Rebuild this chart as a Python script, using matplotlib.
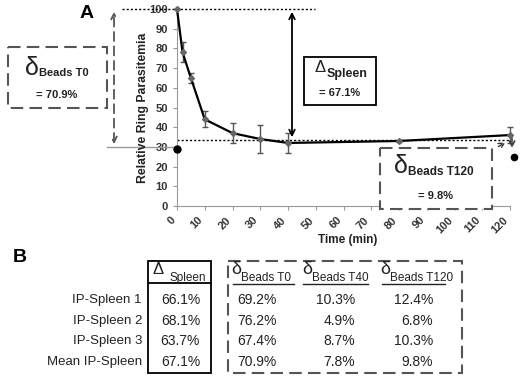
import matplotlib
matplotlib.use("Agg")
import matplotlib.pyplot as plt
from matplotlib.patches import Rectangle

plt.rcParams['font.family'] = ['Liberation Sans', 'DejaVu Sans']

# panel A data
time = [0, 2, 5, 10, 20, 30, 40, 80, 120]
ring = [100, 78, 65, 44, 37, 34, 32, 33, 36]
err = [0, 5, 2.5, 4, 5, 7, 5, 0.5, 4]
spleen_level = 33.5
beads_t0 = 29
beads_t120 = 25

# panel B data
row_names = ['IP-Spleen 1', 'IP-Spleen 2', 'IP-Spleen 3', 'Mean IP-Spleen']
delta_spleen = ['66.1%', '68.1%', '63.7%', '67.1%']
beads_t0_col = ['69.2%', '76.2%', '67.4%', '70.9%']
beads_t40_col = ['10.3%', '4.9%', '8.7%', '7.8%']
beads_t120_col = ['12.4%', '6.8%', '10.3%', '9.8%']

W, H = 520, 376
fig = plt.figure(figsize=(W / 100, H / 100), dpi=100)
txt = '#222222'

# main plot, placed in pixel units
x0, x1, ytop, ybot = 177, 510, 9, 206
ax = fig.add_axes([x0 / W, 1 - ybot / H, (x1 - x0) / W, (ybot - ytop) / H])
ax.set_xlim(0, 120)
ax.set_ylim(0, 100)
ax.errorbar(time, ring, yerr=err, color='black', lw=1.6, ecolor='#555555',
            elinewidth=1, capsize=2, marker='D', ms=3, mfc='#666666',
            mec='#666666', clip_on=False, zorder=3)
for s in ['top', 'right']:
    ax.spines[s].set_visible(False)
for s in ['left', 'bottom']:
    ax.spines[s].set_color('#999999')
ax.set_xticks(range(0, 121, 10))
ax.set_yticks(range(0, 101, 10))
ax.tick_params(axis='both', colors='#999999', labelcolor='#333333',
               labelsize=8, length=3)
for lab in ax.get_yticklabels():
    lab.set_fontweight('bold')
for lab in ax.get_xticklabels():
    lab.set_fontweight('bold')
    lab.set_rotation(45)
    lab.set_ha('right')

# px -> data helper for annotations
def dx(px):
    return (px - x0) / (x1 - x0) * 120

# reference lines
ax.plot([dx(122), dx(315)], [ring[0], ring[0]], ls=(0, (1.5, 1.5)),
        color='black', lw=1, clip_on=False)
ax.plot([0, 120], [spleen_level, spleen_level], ls=(0, (1.5, 1.5)),
        color='black', lw=1, clip_on=False)
ax.plot([dx(107), 0], [30, 30], color='#999999', lw=1, clip_on=False)
ax.plot([0], [beads_t0], 'o', color='black', ms=5, clip_on=False, zorder=4)
ax.plot([dx(514)], [beads_t120], 'o', color='black', ms=4.5, clip_on=False,
        zorder=4)

# arrows
ax.annotate('', xy=(dx(114), ring[0]), xytext=(dx(114), 30),
            arrowprops=dict(arrowstyle='<->', ls=(0, (5, 3)), color='#555555',
                            lw=1.3), annotation_clip=False)
ax.annotate('', xy=(dx(292), ring[0]), xytext=(dx(292), spleen_level),
            arrowprops=dict(arrowstyle='<->', color='black', lw=1.3),
            annotation_clip=False)
ax.annotate('', xy=(dx(512), 28), xytext=(dx(512), ring[-1]),
            arrowprops=dict(arrowstyle='->', ls=(0, (3, 2)), color='#333333',
                            lw=1.1), annotation_clip=False)
ax.annotate('', xy=(dx(508), 33), xytext=(dx(496), 29.5),
            arrowprops=dict(arrowstyle='->', ls=(0, (3, 2)), color='#333333',
                            lw=1), annotation_clip=False)

# overlay in pixel coordinates
ov = fig.add_axes([0, 0, 1, 1])
ov.set_xlim(0, W)
ov.set_ylim(H, 0)
ov.axis('off')
ov.patch.set_alpha(0)

dash = (0, (6, 3))
ov.add_patch(Rectangle((8, 47), 99, 61, fill=True, fc='white', ec='#555555',
                       lw=1.5, ls=dash))
ov.add_patch(Rectangle((304, 57), 72, 48, fc='white', ec='black', lw=1.3))
ov.add_patch(Rectangle((380, 148), 112, 61, fc='white', ec='#555555',
                       lw=1.5, ls=dash))

ov.text(32, 68, 'δ', fontsize=18, ha='center', va='center', color=txt)
ov.text(39, 73, 'Beads T0', fontsize=8, fontweight='bold', ha='left',
        va='center', color=txt)
ov.text(57, 95, '= 70.9%', fontsize=8, fontweight='bold', ha='center',
        va='center', color=txt)

ov.text(320, 68, 'Δ', fontsize=12, ha='center', va='center', color=txt)
ov.text(327, 74, 'Spleen', fontsize=9, fontweight='bold', ha='left',
        va='center', color=txt)
ov.text(340, 93, '= 67.1%', fontsize=8, fontweight='bold', ha='center',
        va='center', color=txt)

ov.text(401, 166, 'δ', fontsize=18, ha='center', va='center', color=txt)
ov.text(408, 172, 'Beads T120', fontsize=8.5, fontweight='bold', ha='left',
        va='center', color=txt)
ov.text(436, 196, '= 9.8%', fontsize=8, fontweight='bold', ha='center',
        va='center', color=txt)

ov.text(87, 14, 'A', fontsize=14, fontweight='bold', ha='center', va='center')
ov.text(143, 108, 'Relative Ring Parasitemia', fontsize=8.8, fontweight='bold',
        rotation=90, ha='center', va='center', color=txt)
ov.text(348, 240, 'Time (min)', fontsize=8.5, fontweight='bold',
        ha='center', va='center', color=txt)

# panel B
ov.text(20, 257, 'B', fontsize=14, fontweight='bold', ha='center', va='center')
row_y = [300, 321, 341, 362]
for y, name, a, b, c, d in zip(row_y, row_names, delta_spleen, beads_t0_col,
                               beads_t40_col, beads_t120_col):
    ov.text(142, y, name, fontsize=9.5, ha='right', va='center', color=txt)
    ov.text(200, y, a, fontsize=10, ha='right', va='center', color=txt)
    ov.text(277, y, b, fontsize=10, ha='right', va='center', color=txt)
    ov.text(355, y, c, fontsize=10, ha='right', va='center', color=txt)
    ov.text(433, y, d, fontsize=10, ha='right', va='center', color=txt)

ov.add_patch(Rectangle((148, 261), 63, 112, fill=False, ec='black', lw=1.3))
ov.plot([148, 211], [283, 283], color='black', lw=1.3)
ov.text(158, 269, 'Δ', fontsize=12, ha='center', va='center', color=txt)
ov.text(170, 278, 'Spleen', fontsize=8.5, ha='left', va='center', color=txt)

ov.add_patch(Rectangle((228, 261), 234, 112, fill=False, ec='#555555',
                       lw=1.5, ls=dash))
for dxp, lab, ul in [(236, 'Beads T0', (233, 294)),
                     (307, 'Beads T40', (303, 368)),
                     (385, 'Beads T120', (382, 445))]:
    ov.text(dxp, 270, 'δ', fontsize=13, ha='center', va='center', color=txt)
    ov.text(dxp + 5, 278, lab, fontsize=8.5, ha='left', va='center', color=txt)
    ov.plot(list(ul), [284, 284], color=txt, lw=1)

fig.savefig('out.png', dpi=100)
